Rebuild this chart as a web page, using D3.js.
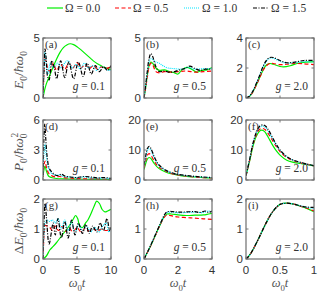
<!DOCTYPE html>
<html><head><meta charset="utf-8">
<script src="https://cdn.jsdelivr.net/npm/d3@7"></script>
<style>body{margin:0;background:#fff} svg{display:block}</style>
</head><body><div id="chart"></div>
<script>
// series legend
var omegaLabels = ['0.0', '0.5', '1.0', '1.5'];

// (a) E0, g = 0.1
var aG = [[0,0],[0.25,0.7],[0.5,1.2],[0.75,1.55],[1,1.9],[1.5,2.6],[2,3.25],[2.5,3.8],[3,4.2],[3.5,4.42],[4,4.52],[4.5,4.45],[5,4.28],[5.5,4.05],[6,3.8],[6.5,3.55],[7,3.3],[7.5,3.05],[8,2.85],[8.5,2.7],[9,2.55],[9.5,2.45],[10,2.38]];
var aR = [[0,0],[0.15,2.2],[0.3,3.3],[0.5,2.9],[0.8,2.3],[1.1,2.3],[1.5,2.9],[2,2.3],[2.6,2.8],[3.2,2.4],[3.8,2.9],[4.4,2.5],[5,2.95],[5.6,2.5],[6.2,2.8],[6.8,2.45],[7.4,2.7],[8,2.4],[8.6,2.6],[9.2,2.45],[10,2.6]];
var aC = [[0,0],[0.15,2.6],[0.3,3.8],[0.5,2.6],[0.7,2.0],[1.1,2.9],[1.6,2.5],[2.1,2.9],[2.7,2.5],[3.3,3.0],[3.7,3.1],[4.3,2.5],[4.9,2.8],[5.5,2.4],[6.1,2.9],[6.7,2.5],[7.3,2.7],[7.9,2.3],[8.5,2.6],[9.1,2.5],[9.6,2.3],[10,2.35]];
var aK = [[0,0],[0.15,2.5],[0.3,4.1],[0.45,3.4],[0.7,1.7],[0.9,1.5],[1.3,3.1],[1.7,2.4],[2.0,1.6],[2.6,3.1],[3.2,1.7],[3.8,3.0],[4.5,1.6],[5.2,3.0],[5.9,1.8],[6.5,2.9],[7.1,2.0],[7.7,2.7],[8.3,2.2],[8.9,2.6],[9.5,2.3],[10,2.7]];

// (b) E0, g = 0.5
var bG = [[0,0],[0.1,0.9],[0.2,1.9],[0.3,2.7],[0.4,3.0],[0.5,2.9],[0.7,2.5],[0.9,2.3],[1.2,2.35],[1.5,2.2],[1.8,2.1],[2.0,2.0],[2.2,2.3],[2.5,2.55],[2.8,2.4],[3.1,2.15],[3.4,2.3],[3.7,2.35],[4,2.55]];
var bR = [[0,0],[0.1,0.85],[0.2,1.8],[0.3,2.6],[0.4,2.9],[0.5,2.8],[0.7,2.2],[0.9,2.1],[1.2,2.2],[1.5,2.15],[2,2.2],[2.5,2.25],[3,2.15],[3.5,2.2],[4,2.25]];
var bC = [[0,0],[0.1,1.0],[0.2,2.1],[0.3,3.0],[0.4,3.3],[0.5,3.2],[0.7,3.0],[0.9,2.9],[1.1,2.7],[1.4,2.5],[1.8,2.45],[2.2,2.4],[2.6,2.55],[3,2.4],[3.5,2.45],[4,2.45]];
var bK = [[0,0],[0.1,1.1],[0.2,2.3],[0.3,3.3],[0.4,3.7],[0.5,3.5],[0.7,2.6],[0.9,2.2],[1.2,2.25],[1.5,2.15],[1.8,2.2],[2.1,2.35],[2.4,2.45],[2.7,2.65],[3,2.45],[3.3,2.3],[3.6,2.4],[4,2.4]];

// (c) E0, g = 2.0
var cG = [[0,0],[0.05,0.1],[0.1,0.4],[0.15,0.85],[0.2,1.35],[0.25,1.85],[0.3,2.2],[0.35,2.3],[0.4,2.25],[0.5,2.1],[0.55,2.07],[0.65,2.15],[0.75,2.3],[0.85,2.38],[1,2.42]];
var cR = [[0,0],[0.05,0.1],[0.1,0.4],[0.15,0.85],[0.2,1.35],[0.25,1.85],[0.3,2.15],[0.35,2.3],[0.4,2.3],[0.5,2.22],[0.6,2.25],[0.7,2.3],[0.85,2.28],[1,2.22]];
var cC = [[0,0],[0.05,0.12],[0.1,0.45],[0.15,0.95],[0.2,1.5],[0.25,2.05],[0.3,2.45],[0.35,2.65],[0.4,2.65],[0.5,2.45],[0.6,2.33],[0.7,2.35],[0.85,2.42],[1,2.4]];
var cK = [[0,0],[0.05,0.12],[0.1,0.45],[0.15,0.95],[0.2,1.5],[0.25,2.1],[0.3,2.5],[0.35,2.7],[0.4,2.7],[0.5,2.5],[0.6,2.35],[0.7,2.38],[0.85,2.5],[1,2.5]];

// (d) P0, g = 0.1
var dG = [[0,0.3],[0.15,1.1],[0.3,1.4],[0.5,0.9],[0.8,0.4],[1.2,0.25],[2,0.15],[3,0.12],[5,0.08],[7,0.07],[10,0.05]];
var dR = [[0,0.3],[0.15,1.5],[0.3,1.9],[0.5,1.3],[0.8,0.7],[1.2,0.45],[1.8,0.3],[2.5,0.35],[3,0.25],[4,0.2],[5,0.15],[6,0.12],[8,0.1],[10,0.1]];
var dC = [[0,0.4],[0.15,2.8],[0.3,3.6],[0.5,2.4],[0.8,1.2],[1.2,0.7],[1.8,0.5],[2.5,0.5],[3,0.35],[4,0.3],[5,0.22],[6,0.3],[7,0.2],[8,0.2],[10,0.15]];
var dK = [[0,0.5],[0.15,4.5],[0.25,5.6],[0.4,4.2],[0.6,2.4],[0.9,1.2],[1.3,0.8],[1.8,0.5],[2.3,0.45],[2.7,0.6],[3.2,0.4],[4,0.3],[5,0.25],[6,0.35],[7,0.3],[8,0.2],[9,0.25],[10,0.15]];

// (e) P0, g = 0.5
var eG = [[0,3.5],[0.1,5.5],[0.2,7.0],[0.3,7.5],[0.4,7.2],[0.6,5.5],[0.8,4.2],[1,3.4],[1.3,2.6],[1.6,2.1],[2,1.6],[2.5,1.2],[3,1.0],[3.5,0.8],[4,0.7]];
var eR = [[0,4.0],[0.1,6.5],[0.2,8.3],[0.3,8.8],[0.4,8.3],[0.6,6.3],[0.8,4.7],[1,3.8],[1.3,2.9],[1.6,2.2],[2,1.7],[2.5,1.3],[3,1.0],[3.5,0.8],[4,0.7]];
var eC = [[0,4.5],[0.1,7.5],[0.2,9.8],[0.3,10.5],[0.4,10.0],[0.6,7.4],[0.8,5.4],[1,4.2],[1.3,3.1],[1.6,2.4],[2,1.8],[2.5,1.4],[3,1.1],[3.5,0.9],[4,0.8]];
var eK = [[0,5.0],[0.1,8.0],[0.2,10.5],[0.3,11.2],[0.4,10.6],[0.6,7.8],[0.8,5.6],[1,4.4],[1.3,3.2],[1.6,2.5],[2,1.9],[2.5,1.5],[3,1.2],[3.5,1.0],[4,0.8]];

// (f) P0, g = 2.0
var fG = [[0,1.5],[0.05,6],[0.1,11],[0.15,14.5],[0.2,16.3],[0.23,16.6],[0.27,16.2],[0.3,15.3],[0.35,13.3],[0.4,11.3],[0.45,9.6],[0.5,8.3],[0.6,6.6],[0.7,5.9],[0.8,5.5],[0.9,5.1],[1,4.7]];
var fR = [[0,1.5],[0.05,6.2],[0.1,11.5],[0.15,15],[0.2,16.9],[0.24,17.2],[0.28,16.8],[0.32,15.7],[0.4,12.8],[0.45,11],[0.5,9.5],[0.6,7.5],[0.7,6.4],[0.8,5.7],[0.9,5.2],[1,4.7]];
var fC = [[0,1.5],[0.05,6.4],[0.1,11.8],[0.15,15.6],[0.2,17.6],[0.24,18.0],[0.28,17.6],[0.32,16.5],[0.4,13.4],[0.45,11.5],[0.5,9.9],[0.6,7.7],[0.7,6.5],[0.8,5.8],[0.9,5.2],[1,4.7]];
var fK = [[0,1.5],[0.05,6.5],[0.1,12],[0.15,15.8],[0.2,17.9],[0.25,18.4],[0.29,17.9],[0.33,16.7],[0.4,13.7],[0.45,11.7],[0.5,10],[0.6,7.8],[0.7,6.6],[0.8,5.9],[0.9,5.3],[1,4.8]];

// (g) dE0, g = 0.1
var gG = [[0,0],[0.5,0.1],[1,0.3],[1.5,0.42],[2,0.55],[2.5,0.7],[3,0.85],[3.5,1.0],[4,1.15],[4.5,1.35],[4.8,1.45],[5.1,1.35],[5.4,1.1],[5.8,1.05],[6.2,1.18],[6.6,1.3],[7,1.48],[7.5,1.75],[7.9,1.93],[8.3,1.85],[8.7,1.65],[9.1,1.57],[9.5,1.6],[10,1.66]];
var gR = [[0,0],[0.15,0.8],[0.3,1.12],[0.6,1.1],[1,1.05],[1.4,0.95],[1.8,1.1],[2.3,0.95],[2.8,1.08],[3.3,0.92],[3.8,1.05],[4.4,0.9],[5,1.05],[5.6,0.9],[6.2,1.02],[6.8,0.92],[7.4,1.0],[8,0.93],[8.6,1.0],[9.2,0.95],[10,1.0]];
var gC = [[0,0],[0.15,0.9],[0.3,1.2],[0.6,1.3],[1,1.25],[1.4,1.3],[1.8,1.2],[2.2,1.35],[2.7,1.0],[3.2,1.3],[3.7,0.95],[4.2,1.25],[4.7,0.9],[5.3,1.15],[5.8,0.95],[6.4,1.1],[7,0.9],[7.6,1.05],[8.2,0.9],[8.8,1.1],[9.3,1.2],[9.7,0.9],[10,1.05]];
var gK = [[0,0],[0.15,1.2],[0.3,1.85],[0.5,1.4],[0.9,0.5],[1.5,1.2],[1.8,0.8],[2.2,1.35],[2.7,0.7],[3.2,1.25],[3.7,0.7],[4.2,1.3],[4.7,0.8],[5.2,1.2],[5.8,0.85],[6.3,1.15],[6.8,0.85],[7.3,1.1],[7.9,0.9],[8.4,1.2],[8.9,0.95],[9.4,1.35],[9.8,0.95],[10,1.1]];

// (h) dE0, g = 0.5
var hG = [[0,0],[0.3,0.33],[0.6,0.7],[0.9,1.08],[1.2,1.42],[1.35,1.5],[1.6,1.5],[2,1.47],[2.5,1.45],[3,1.46],[3.5,1.47],[3.8,1.5],[4,1.52]];
var hR = [[0,0],[0.3,0.33],[0.6,0.7],[0.9,1.08],[1.2,1.4],[1.35,1.46],[1.7,1.43],[2,1.4],[2.5,1.38],[3,1.36],[3.5,1.34],[4,1.32]];
var hC = [[0,0],[0.3,0.34],[0.6,0.72],[0.9,1.1],[1.2,1.45],[1.35,1.55],[1.7,1.56],[2,1.54],[2.5,1.55],[3,1.56],[3.5,1.55],[3.8,1.6],[4,1.58]];
var hK = [[0,0],[0.3,0.34],[0.6,0.72],[0.9,1.1],[1.2,1.47],[1.35,1.57],[1.7,1.58],[2,1.56],[2.5,1.57],[3,1.58],[3.3,1.55],[3.6,1.6],[3.8,1.55],[4,1.6]];

// (i) dE0, g = 2.0
var iG = [[0,0],[0.05,0.12],[0.1,0.3],[0.2,0.75],[0.3,1.22],[0.4,1.6],[0.5,1.82],[0.6,1.86],[0.7,1.83],[0.8,1.76],[0.9,1.68],[1,1.58]];
var iR = [[0,0],[0.05,0.12],[0.1,0.3],[0.2,0.75],[0.3,1.22],[0.4,1.6],[0.5,1.82],[0.6,1.86],[0.7,1.83],[0.8,1.76],[0.9,1.69],[1,1.6]];
var iC = [[0,0],[0.05,0.12],[0.1,0.3],[0.2,0.75],[0.3,1.22],[0.4,1.6],[0.5,1.82],[0.6,1.86],[0.7,1.83],[0.8,1.77],[0.9,1.72],[1,1.68]];
var iK = [[0,0],[0.05,0.12],[0.1,0.3],[0.2,0.75],[0.3,1.22],[0.4,1.6],[0.5,1.82],[0.6,1.86],[0.7,1.83],[0.8,1.77],[0.9,1.73],[1,1.72]];

// axis ranges and ticks
var xMax = [10, 4, 1];
var xTicks = [[0, 5, 10], [0, 2, 4], [0, 0.5, 1]];
var yMax = [[5, 5, 4], [6, 20, 20], [2, 2, 2]];
var yTicks = [[[0, 5], [0, 5], [0, 2, 4]], [[0, 3, 6], [0, 10, 20], [0, 10, 20]], [[0, 1, 2], [0, 1, 2], [0, 1, 2]]];
var gLabels = ['0.1', '0.5', '2.0'];
var panelLetters = [['a', 'b', 'c'], ['d', 'e', 'f'], ['g', 'h', 'i']];
var panelData = [
    [[aG, aR, aC, aK], [bG, bR, bC, bK], [cG, cR, cC, cK]],
    [[dG, dR, dC, dK], [eG, eR, eC, eK], [fG, fR, fC, fK]],
    [[gG, gR, gC, gK], [hG, hR, hC, hK], [iG, iR, iC, iK]]
];

var W = 332, H = 296;
var colX = [43, 144, 246], pw = 68;
var rowY = [38, 120, 199], ph = 60;
var seriesStyle = [
    { color: '#00ee00', dash: null },
    { color: '#ff0000', dash: '4,2.5' },
    { color: '#00e5ff', dash: '1,1' },
    { color: '#000000', dash: '4,1.5,1,1.5' }
];
var SANS = '"Liberation Sans", Arial, sans-serif';
var SERIF = '"Liberation Serif", "Times New Roman", serif';
var TXT = '#333';

var svg = d3.select('#chart').append('svg')
    .attr('width', W).attr('height', H);
var defs = svg.append('defs');

// small helper for math-like labels: parts = [[text, 'i'|'n'|'sub'|'sup'], ...]
function mathText(sel, parts, size) {
    var shift = 0;
    parts.forEach(function (p) {
        var t = sel.append('tspan').text(p[0]);
        var target = 0;
        if (p[1] === 'sub') target = size * 0.3;
        if (p[1] === 'sup') target = -size * 0.4;
        if (target !== shift) { t.attr('dy', target - shift); shift = target; }
        if (p[1] === 'sub' || p[1] === 'sup') t.attr('font-size', size * 0.7);
        if (p[1] === 'i') t.attr('font-style', 'italic');
        if (p[2]) t.attr('dx', p[2]);
    });
    return sel;
}

var line = d3.line().curve(d3.curveCatmullRom.alpha(0.5));

for (var r = 0; r < 3; r++) {
    for (var c = 0; c < 3; c++) {
        var x0 = colX[c], y0 = rowY[r];
        var x = d3.scaleLinear().domain([0, xMax[c]]).range([x0, x0 + pw]);
        var y = d3.scaleLinear().domain([0, yMax[r][c]]).range([y0 + ph, y0]);
        var g = svg.append('g');
        var clipId = 'clip' + r + c;
        defs.append('clipPath').attr('id', clipId).append('rect')
            .attr('x', x0).attr('y', y0).attr('width', pw).attr('height', ph);

        var curves = g.append('g').attr('clip-path', 'url(#' + clipId + ')');
        panelData[r][c].forEach(function (series, k) {
            curves.append('path')
                .attr('d', line(series.map(function (d) { return [x(d[0]), y(d[1])]; })))
                .attr('fill', 'none')
                .attr('stroke', seriesStyle[k].color)
                .attr('stroke-width', 1.2)
                .attr('stroke-dasharray', seriesStyle[k].dash);
        });

        // inward ticks on all four sides
        var tk = g.append('g').attr('stroke', '#555').attr('stroke-width', 0.8);
        xTicks[c].forEach(function (v) {
            tk.append('line').attr('x1', x(v)).attr('x2', x(v)).attr('y1', y0 + ph).attr('y2', y0 + ph - 2.5);
            tk.append('line').attr('x1', x(v)).attr('x2', x(v)).attr('y1', y0).attr('y2', y0 + 2.5);
        });
        yTicks[r][c].forEach(function (v) {
            tk.append('line').attr('x1', x0).attr('x2', x0 + 2.5).attr('y1', y(v)).attr('y2', y(v));
            tk.append('line').attr('x1', x0 + pw).attr('x2', x0 + pw - 2.5).attr('y1', y(v)).attr('y2', y(v));
        });

        g.append('rect').attr('x', x0).attr('y', y0).attr('width', pw).attr('height', ph)
            .attr('fill', 'none').attr('stroke', '#6e6e6e').attr('stroke-width', 1.2);

        // y tick labels
        yTicks[r][c].forEach(function (v) {
            g.append('text').attr('x', x0 - 3).attr('y', y(v)).attr('dy', '0.35em')
                .attr('text-anchor', 'end').attr('font-family', SANS).attr('font-size', 11.5)
                .attr('fill', TXT).text(v);
        });
        // x tick labels only on bottom row
        if (r === 2) {
            xTicks[c].forEach(function (v) {
                g.append('text').attr('x', x(v)).attr('y', y0 + ph + 15)
                    .attr('text-anchor', 'middle').attr('font-family', SANS).attr('font-size', 11.5)
                    .attr('fill', TXT).text(v);
            });
            var xl = g.append('text').attr('x', x0 + pw / 2).attr('y', y0 + ph + 28)
                .attr('text-anchor', 'middle').attr('font-family', SERIF).attr('font-size', 12.5)
                .attr('fill', '#555');
            mathText(xl, [['ω', 'i'], ['0', 'sub'], ['t', 'i']], 12.5);
        }

        // panel letter
        g.append('text').attr('x', x0 + 2).attr('y', y0 + 9.5)
            .attr('font-family', SERIF).attr('font-size', 11).attr('fill', TXT)
            .text('(' + panelLetters[r][c] + ')');

        // coupling label
        var gl = g.append('text').attr('x', x0 + pw - 6).attr('y', y0 + ph - 8)
            .attr('text-anchor', 'end').attr('font-family', SERIF).attr('font-size', 11.5)
            .attr('fill', TXT);
        mathText(gl, [['g', 'i'], [' = ' + gLabels[c], 'n']], 11.5);
    }
}

// y axis labels
var yLabelParts = [
    [['E', 'i'], ['0', 'sub'], ['/', 'n'], ['ħω', 'i'], ['0', 'sub']],
    [['P', 'i'], ['0', 'sub'], ['/', 'n'], ['ħω', 'i'], ['0', 'sub'], ['2', 'sup', -4]],
    [['Δ', 'n'], ['E', 'i'], ['0', 'sub'], ['/', 'n'], ['ħω', 'i'], ['0', 'sub']]
];
rowY.forEach(function (yy, r) {
    var t = svg.append('text')
        .attr('transform', 'translate(23,' + (yy + ph / 2 + 2) + ') rotate(-90)')
        .attr('text-anchor', 'middle').attr('font-family', SERIF).attr('font-size', 13.5)
        .attr('fill', '#555');
    mathText(t, yLabelParts[r], 13.5);
});

// legend
var legX = [47, 115, 184, 253];
omegaLabels.forEach(function (lab, k) {
    svg.append('line').attr('x1', legX[k]).attr('x2', legX[k] + 16).attr('y1', 8).attr('y2', 8)
        .attr('stroke', seriesStyle[k].color).attr('stroke-width', 1.2)
        .attr('stroke-dasharray', seriesStyle[k].dash);
    svg.append('text').attr('x', legX[k] + 18).attr('y', 12)
        .attr('font-family', SERIF).attr('font-size', 11.5).attr('fill', TXT)
        .text('Ω = ' + lab);
});
</script></body></html>
